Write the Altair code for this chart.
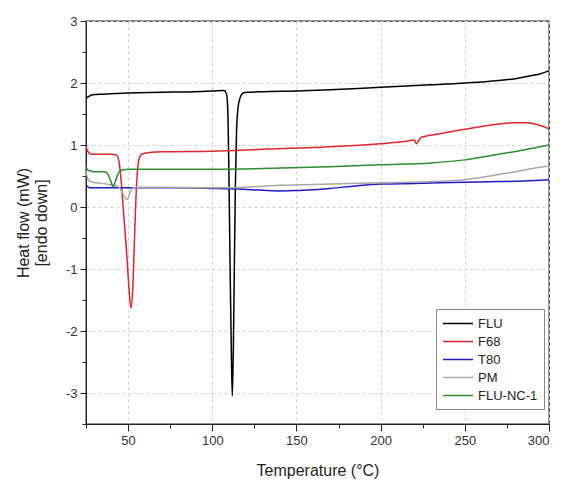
import altair as alt
import pandas as pd

# ---- data ----
flu_x = [25, 26, 27, 29, 35, 50, 70, 90, 100, 107, 108.5, 109.3, 109.9, 110.6, 111.3, 111.9, 112.5, 113.1,
         113.7, 114.4, 115.3, 116.5, 118.4, 121, 130, 150, 170, 200, 230, 250, 265, 280, 290, 295, 300]
flu_y = [1.76, 1.77, 1.79, 1.81, 1.82, 1.84, 1.85, 1.86, 1.87, 1.88, 1.82, 1.5, 0.5, -1.0, -2.3, -3.05, -2.3, -1.0,
         0.3, 1.2, 1.6, 1.76, 1.84, 1.85, 1.86, 1.87, 1.89, 1.93, 1.97, 2.0, 2.03, 2.07, 2.12, 2.15, 2.2]

f68_x = [25, 26, 27.5, 30, 40, 43, 44.5, 45.8, 47.2, 49.2, 50.5, 51.7, 52.8, 53.7, 54.6, 55.6, 56.8, 58.5,
         70, 100, 130, 150, 170, 200, 215, 220, 221.3, 222.5, 224, 235, 249, 265, 280, 287, 293, 300]
f68_y = [0.97, 0.9, 0.86, 0.85, 0.85, 0.84, 0.75, 0.45, -0.05, -0.76, -1.3, -1.63, -1.3, -0.6, 0.1, 0.6, 0.8, 0.86,
         0.89, 0.9, 0.93, 0.95, 0.97, 1.02, 1.06, 1.08, 1.02, 1.07, 1.12, 1.18, 1.25, 1.32, 1.36, 1.36, 1.33, 1.26]

t80_x = [25, 26, 27, 30, 50, 80, 100, 115, 130, 140, 150, 160, 170, 185, 200, 220, 250, 270, 285, 300]
t80_y = [0.35, 0.33, 0.31, 0.31, 0.31, 0.31, 0.3, 0.29, 0.27, 0.26, 0.265, 0.28, 0.3, 0.34, 0.37, 0.38, 0.4,
         0.41, 0.42, 0.44]

pm_x = [25, 25.8, 27, 29, 35, 43, 44.5, 46.5, 48.5, 49.5, 51, 53, 56, 70, 100, 120, 140, 170, 200, 230, 250,
        265, 280, 290, 300]
pm_y = [0.58, 0.48, 0.42, 0.4, 0.38, 0.34, 0.32, 0.24, 0.14, 0.12, 0.22, 0.31, 0.32, 0.32, 0.31, 0.32, 0.35,
        0.37, 0.39, 0.41, 0.44, 0.5, 0.57, 0.62, 0.66]

nc_x = [25, 26, 27.5, 30, 35, 37, 38.5, 40, 41, 42.5, 44, 45.5, 47, 50, 70, 100, 130, 170, 200, 230, 250, 270,
        285, 300]
nc_y = [0.65, 0.6, 0.58, 0.57, 0.57, 0.56, 0.5, 0.4, 0.32, 0.42, 0.53, 0.59, 0.6, 0.61, 0.61, 0.61, 0.62, 0.65,
        0.68, 0.71, 0.76, 0.85, 0.92, 1.0]

series = ["FLU", "F68", "T80", "PM", "FLU-NC-1"]
colors = ["#000000", "#e0262a", "#1c1cc0", "#a8a8a8", "#2e8b2e"]

x_major = [50, 100, 150, 200, 250, 300]
x_minor = [25, 75, 125, 175, 225, 275]
y_major = [-3, -2, -1, 0, 1, 2, 3]
y_minor = [-3.5, -2.5, -1.5, -0.5, 0.5, 1.5, 2.5]

rows = []
for name, xs, ys in zip(series, [flu_x, f68_x, t80_x, pm_x, nc_x], [flu_y, f68_y, t80_y, pm_y, nc_y]):
    for i, (a, b) in enumerate(zip(xs, ys)):
        rows.append({"series": name, "T": a, "H": b, "order": i})
df = pd.DataFrame(rows)

FONT = "Liberation Sans"
xscale = alt.Scale(domain=[25, 300], nice=False, zero=False)
yscale = alt.Scale(domain=[-3.5, 3], nice=False, zero=False)

lines = alt.Chart(df).mark_line(strokeWidth=1.5, interpolate="monotone", clip=True).encode(
    x=alt.X("T:Q", scale=xscale,
            axis=alt.Axis(values=x_major, title="Temperature (°C)", orient="bottom", grid=True,
                          gridDash=[3, 3], gridColor="#cfcfcf", tickSize=7, labelPadding=3,
                          titlePadding=15, labelFontSize=13, titleFontSize=16, labelColor="#333",
                          titleColor="#222", domainColor="#222", tickColor="#222",
                          titleFontWeight="normal", labelFont=FONT, titleFont=FONT)),
    y=alt.Y("H:Q", scale=yscale,
            axis=alt.Axis(values=y_major, title=["Heat flow (mW)", "[endo down]"], orient="left",
                          grid=True, gridDash=[3, 3], gridColor="#cfcfcf", tickSize=6, labelPadding=3,
                          titlePadding=16, labelFontSize=13, titleFontSize=16, labelColor="#333",
                          titleColor="#222", domainColor="#222", tickColor="#222",
                          titleFontWeight="normal", labelFont=FONT, titleFont=FONT,
                          labelExpr="'' + datum.value")),
    color=alt.Color("series:N", scale=alt.Scale(domain=series, range=colors),
                    legend=alt.Legend(title=None, orient="none", legendX=350, legendY=288,
                                      symbolType="M-1,0H3", symbolStrokeWidth=1.5, symbolSize=225,
                                      labelFontSize=13, labelFont=FONT, labelColor="#222",
                                      strokeColor="#888", fillColor="white", padding=6,
                                      rowPadding=2, labelOffset=19)),
    detail="series:N",
    order="order:Q",
)

minor = alt.Chart(df).mark_point(opacity=0).encode(
    x=alt.X("T:Q", scale=xscale,
            axis=alt.Axis(values=x_minor, title=None, labels=False, grid=False, orient="bottom",
                          tickSize=4, domain=False, tickColor="#222")),
    y=alt.Y("H:Q", scale=yscale,
            axis=alt.Axis(values=y_minor, title=None, labels=False, grid=False, orient="left",
                          tickSize=4, domain=False, tickColor="#222")),
)

chart = alt.layer(lines, minor).resolve_axis(x="independent", y="independent").properties(
    width=463, height=403,
    autosize=alt.AutoSizeParams(type="none"),
    padding={"left": 78, "top": 13, "right": 5, "bottom": 60},
).configure_view(stroke="#222", strokeWidth=1.3)

chart.save("out.html", embed_options={"renderer": "svg", "actions": False})
